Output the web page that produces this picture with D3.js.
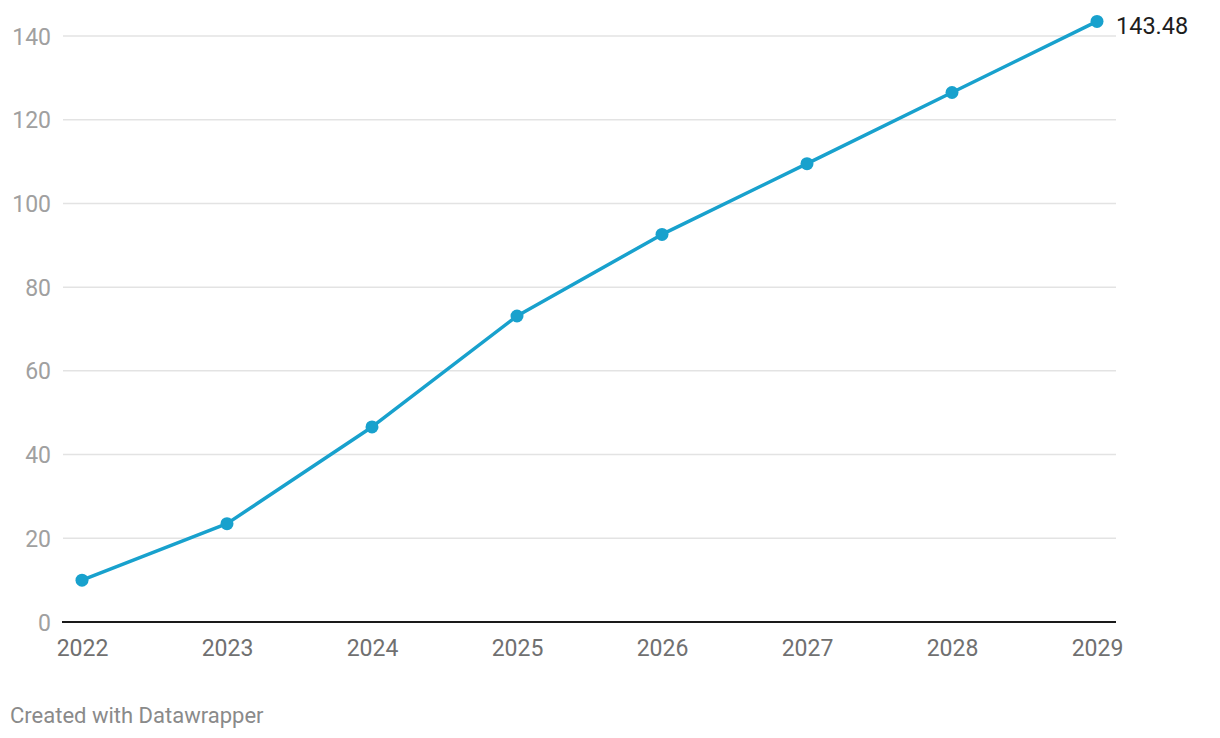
<!DOCTYPE html>
<html><head><meta charset="utf-8">
<script src="https://cdn.jsdelivr.net/npm/d3@7"></script>
<style>body{margin:0;background:#fff;}svg{display:block;font-family:Roboto,sans-serif;}</style>
</head><body>
<svg id="c" width="1220" height="738"></svg>
<script>
const years = ["2022","2023","2024","2025","2026","2027","2028","2029"];
const values = [10.0, 23.5, 46.6, 73.1, 92.6, 109.5, 126.5, 143.48];
const yTicks = [0,20,40,60,80,100,120,140];
const lastLabel = "143.48";
const footer = "Created with Datawrapper";

const svg = d3.select("#c");
const x = d3.scalePoint().domain(years).range([82,1097]);
const y = d3.scaleLinear().domain([0,140]).range([622,36]);
const gridX0 = 63, gridX1 = 1116;

svg.append("g").selectAll("line").data(yTicks.filter(d=>d>0)).join("line")
  .attr("x1",gridX0).attr("x2",gridX1)
  .attr("y1",d=>y(d)).attr("y2",d=>y(d))
  .attr("stroke","#e3e3e3").attr("stroke-width",1.5);

const yAxis = d3.axisLeft(y).tickValues(yTicks).tickSize(0).tickPadding(0);
const gy = svg.append("g").attr("transform","translate(51,0)").call(yAxis);
gy.select(".domain").remove();
gy.selectAll("text").attr("font-size",23).attr("fill","#a0a0a0").attr("font-family","Roboto").attr("dy","0.35em");

svg.append("line").attr("x1",62).attr("x2",gridX1).attr("y1",y(0)).attr("y2",y(0))
  .attr("stroke","#1a1a1a").attr("stroke-width",2);

const xAxis = d3.axisBottom(x).tickSize(0).tickPadding(0);
const gx = svg.append("g").attr("transform","translate(0,648)").call(xAxis);
gx.select(".domain").remove();
gx.selectAll("text").attr("font-size",23).attr("fill","#707070").attr("font-family","Roboto").attr("dy","0.35em");

const color = "#18a1cd";
svg.append("path").datum(values)
  .attr("d", d3.line().x((d,i)=>x(years[i])).y(d=>y(d)))
  .attr("fill","none").attr("stroke",color).attr("stroke-width",3.5)
  .attr("stroke-linejoin","round");

svg.append("g").selectAll("circle").data(values).join("circle")
  .attr("cx",(d,i)=>x(years[i])).attr("cy",d=>y(d)).attr("r",6.5).attr("fill",color);

svg.append("text").attr("x",x(years[years.length-1])+19).attr("y",y(values[values.length-1])+4)
  .attr("dy","0.35em").attr("font-size",23.5).attr("fill","#1d1d1d").text(lastLabel);

svg.append("text").attr("x",10).attr("y",715).attr("dy","0.35em")
  .attr("font-size",22).attr("fill","#8a8a8a").text(footer);
</script>
</body></html>
